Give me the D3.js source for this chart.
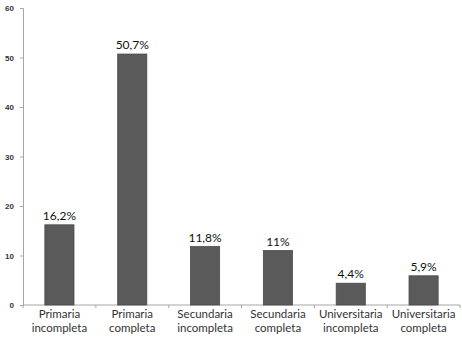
<!DOCTYPE html>
<html>
<head>
<meta charset="utf-8">
<script src="https://cdn.jsdelivr.net/npm/d3@7"></script>
<style>
  body { margin: 0; background: #fff; }
  svg { display: block; font-family: Lato, "Open Sans", sans-serif; }
</style>
</head>
<body>
<svg id="chart" width="462" height="338"></svg>
<script>
'use strict';

/* ── Data ── */
const categories = [
  ['Primaria', 'incompleta'],
  ['Primaria', 'completa'],
  ['Secundaria', 'incompleta'],
  ['Secundaria', 'completa'],
  ['Universitaria', 'incompleta'],
  ['Universitaria', 'completa']
];
const values = [16.2, 50.7, 11.8, 11, 4.4, 5.9];
const valueLabels = ['16,2%', '50,7%', '11,8%', '11%', '4,4%', '5,9%'];
const yTicks = [0, 10, 20, 30, 40, 50, 60];

/* ── Layout ── */
const W = 462, H = 338;
const PAD_L = 23, PAD_R = 2, PAD_T = 8, PAD_B = 33;
const svg = d3.select('#chart');

const x = d3.scaleBand()
  .domain(d3.range(categories.length))
  .range([PAD_L, W - PAD_R])
  .paddingInner(0.6).paddingOuter(0.3);

const y = d3.scaleLinear().domain([0, 60]).range([H - PAD_B, PAD_T]);

/* ── Y axis ── */
const yAxis = svg.append('g')
  .attr('transform', `translate(${PAD_L},0)`)
  .call(d3.axisLeft(y).tickValues(yTicks).tickSize(3).tickPadding(6));
yAxis.select('.domain').attr('stroke', '#a6a6a6');
yAxis.selectAll('.tick line').attr('stroke', '#a6a6a6');
yAxis.selectAll('.tick text')
  .attr('font-size', 8).attr('font-weight', 'bold').attr('fill', '#333');

/* ── X axis line with category separators ── */
const baseY = y(0);
const step = (W - PAD_R - PAD_L) / categories.length;
svg.append('line')
  .attr('x1', PAD_L).attr('x2', W - PAD_R)
  .attr('y1', baseY).attr('y2', baseY)
  .attr('stroke', '#a6a6a6');
d3.range(categories.length + 1).forEach(i => {
  const tx = PAD_L + i * step;
  svg.append('line')
    .attr('x1', tx).attr('x2', tx)
    .attr('y1', baseY).attr('y2', baseY + 3)
    .attr('stroke', '#a6a6a6');
});

/* ── Bars ── */
svg.selectAll('rect.bar')
  .data(values)
  .join('rect')
  .attr('class', 'bar')
  .attr('x', (d, i) => x(i))
  .attr('width', x.bandwidth())
  .attr('y', d => y(d))
  .attr('height', d => y(0) - y(d))
  .attr('fill', '#5a5a5a')
  .attr('stroke', '#4a4a4a').attr('stroke-width', 0.8);

/* ── Value labels ── */
svg.selectAll('text.val')
  .data(values)
  .join('text')
  .attr('class', 'val')
  .attr('x', (d, i) => x(i) + x.bandwidth() / 2)
  .attr('y', d => y(d) - 5)
  .attr('text-anchor', 'middle')
  .attr('font-size', 12).attr('fill', '#111')
  .text((d, i) => valueLabels[i]);

/* ── Category labels ── */
categories.forEach((lines, i) => {
  const cx = x(i) + x.bandwidth() / 2;
  lines.forEach((ln, j) => {
    svg.append('text')
      .attr('x', cx).attr('y', baseY + 13 + j * 13.5)
      .attr('text-anchor', 'middle')
      .attr('font-size', 11.5).attr('fill', '#333')
      .text(ln);
  });
});
</script>
</body>
</html>
